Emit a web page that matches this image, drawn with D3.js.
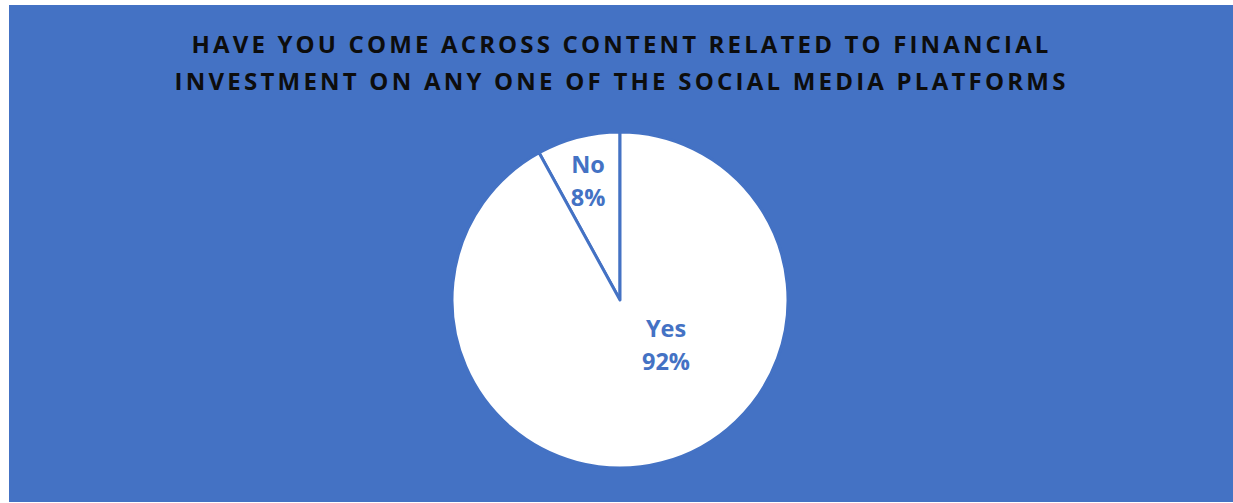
<!DOCTYPE html>
<html>
<head>
<meta charset="utf-8">
<script src="https://cdn.jsdelivr.net/npm/d3@7"></script>
<style>
  body { margin: 0; background: #fff; }
  svg { display: block; }
</style>
</head>
<body>
<div id="vis"></div>
<script>
let categories = ["No", "Yes"];
let values = [8, 92];
let titleLines = ["HAVE YOU COME ACROSS CONTENT RELATED TO FINANCIAL",
                  "INVESTMENT ON ANY ONE OF THE SOCIAL MEDIA PLATFORMS"];

let width = 1233, height = 503;
let blue = "#4472C4";

let svg = d3.select("#vis").append("svg")
    .attr("width", width)
    .attr("height", height);

svg.append("rect")
  .attr("x", 9).attr("y", 5)
  .attr("width", width - 9).attr("height", 497)
  .attr("fill", blue);

// title, spread to match the original line widths
let titleWidths = [860, 894];
let titleY = [53, 90];
titleLines.forEach((t, i) => {
  let txt = svg.append("text")
    .attr("x", 620)
    .attr("y", titleY[i])
    .attr("text-anchor", "middle")
    .attr("font-family", "Open Sans, sans-serif")
    .attr("font-weight", "bold")
    .attr("font-size", 24)
    .attr("fill", "#0d0d0d")
    .text(t);
  let w = txt.node().getComputedTextLength();
  let ls = (titleWidths[i] - w) / t.length;
  txt.attr("letter-spacing", ls)
     .attr("x", 620 + ls / 2);
});

let cx = 620, cy = 300, r = 168;

let pie = d3.pie()
    .sort(null)
    .startAngle(-values[0] / 100 * 2 * Math.PI)
    .endAngle(2 * Math.PI - values[0] / 100 * 2 * Math.PI);

let arc = d3.arc().innerRadius(0).outerRadius(r);

let g = svg.append("g")
    .attr("transform", "translate(" + cx + "," + cy + ")");

let data = categories.map((c, i) => ({name: c, value: values[i]}));
let arcs = pie.value(d => d.value)(data);

g.selectAll("path")
  .data(arcs)
  .join("path")
    .attr("d", arc)
    .attr("fill", "#fff")
    .attr("stroke", blue)
    .attr("stroke-width", 3)
    .attr("stroke-linejoin", "round");

// label positions (relative to center) as in the original
let labelPos = {No: [-32, -127], Yes: [46, 37]};
arcs.forEach(a => {
  let p = labelPos[a.data.name];
  let t = g.append("text")
    .attr("x", p[0])
    .attr("y", p[1])
    .attr("text-anchor", "middle")
    .attr("font-family", "Open Sans, sans-serif")
    .attr("font-weight", "bold")
    .attr("font-size", 23.5)
    .attr("fill", blue);
  t.append("tspan").attr("x", p[0]).attr("dy", 0).text(a.data.name);
  t.append("tspan").attr("x", p[0]).attr("dy", 33).text(a.data.value + "%");
});
</script>
</body>
</html>
